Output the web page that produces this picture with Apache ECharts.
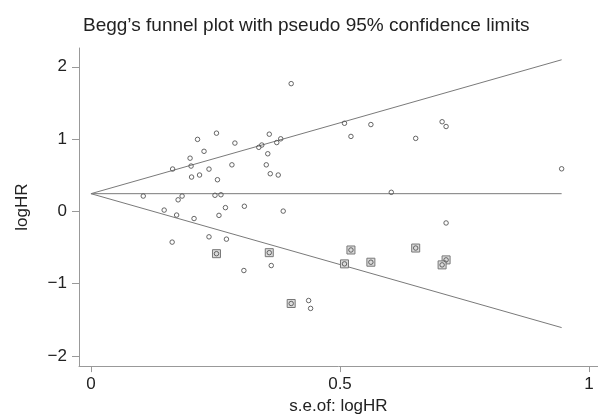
<!DOCTYPE html>
<html>
<head>
<meta charset="utf-8">
<script src="https://cdn.jsdelivr.net/npm/echarts@6/dist/echarts.min.js"></script>
<style>
  html, body { margin: 0; padding: 0; background: #fff; }
  #chart { width: 598px; height: 420px; }
</style>
</head>
<body>
<div id="chart"></div>
<script>
// Observed studies: standard error and log hazard ratio
const studySE = [
  0.252, 0.214, 0.289, 0.358, 0.227, 0.199, 0.164, 0.201, 0.237, 0.283,
  0.202, 0.218, 0.254, 0.337, 0.343, 0.373, 0.381, 0.355, 0.352, 0.360,
  0.376, 0.105, 0.183, 0.175, 0.249, 0.261, 0.147, 0.172, 0.207, 0.270,
  0.257, 0.308, 0.237, 0.272, 0.163, 0.362, 0.307, 0.402, 0.509, 0.562,
  0.522, 0.652, 0.705, 0.713, 0.603, 0.386, 0.713, 0.437, 0.441, 0.945
];
const studyLogHR = [
  1.082, 0.996, 0.945, 1.068, 0.831, 0.736, 0.586, 0.627, 0.585, 0.644,
  0.475, 0.503, 0.438, 0.886, 0.918, 0.952, 1.004, 0.797, 0.644, 0.521,
  0.503, 0.212, 0.212, 0.160, 0.223, 0.230, 0.018, -0.051, -0.099, 0.052,
  -0.055, 0.071, -0.352, -0.384, -0.425, -0.749, -0.818, 1.767, 1.219, 1.201,
  1.037, 1.010, 1.240, 1.174, 0.264, 0.004, -0.160, -1.233, -1.342, 0.589
];

// Filled (imputed) studies
const filledSE = [0.252, 0.358, 0.522, 0.652, 0.562, 0.509, 0.713, 0.705, 0.402];
const filledLogHR = [-0.585, -0.571, -0.534, -0.507, -0.703, -0.726, -0.671, -0.740, -1.274];

// Pooled estimate and the largest standard error, for the pseudo 95% limits
const pooledLogHR = 0.245;
const maxSE = 0.945;
const zCrit = 1.96;

const xTickValues = [0, 0.5, 1];
const yTickValues = [-2, -1, 0, 1, 2];

const pairs = (xs, ys) => xs.map((x, i) => [x, ys[i]]);

const lineStyle = { color: '#7a7a7a', width: 1 };
const funnelLine = (yEnd) => ({
  type: 'line',
  data: [[0, pooledLogHR], [maxSE, yEnd]],
  symbol: 'none',
  silent: true,
  lineStyle: lineStyle,
  z: 1
});

const fontFamily = '"Liberation Sans", Arial, Helvetica, sans-serif';
const minus = v => String(v).replace('-', '\u2212');

const chart = echarts.init(document.getElementById('chart'), null, { renderer: 'canvas' });
chart.setOption({
  animation: false,
  backgroundColor: '#fff',
  title: {
    text: 'Begg\u2019s funnel plot with pseudo 95% confidence limits',
    left: 78,
    top: 11,
    textStyle: { fontFamily, fontSize: 19, fontWeight: 'normal', color: '#222' }
  },
  grid: { left: 79, right: 0, top: 48, bottom: 51, containLabel: false },
  xAxis: {
    type: 'value',
    min: -0.024,
    max: 1.018,
    name: 's.e.of: logHR',
    nameLocation: 'middle',
    nameGap: 31,
    nameTextStyle: { fontFamily, fontSize: 17, color: '#222' },
    axisLine: { onZero: false, lineStyle: { color: '#999', width: 1 } },
    axisTick: { show: true, length: 6, customValues: xTickValues, lineStyle: { color: '#999' } },
    axisLabel: {
      customValues: xTickValues,
      margin: 10,
      fontFamily, fontSize: 17, color: '#222',
      formatter: v => minus(v)
    },
    splitLine: { show: false }
  },
  yAxis: {
    type: 'value',
    min: -2.14,
    max: 2.26,
    name: 'logHR',
    nameLocation: 'middle',
    nameGap: 48,
    nameTextStyle: { fontFamily, fontSize: 17, color: '#222' },
    axisLine: { onZero: false, lineStyle: { color: '#999', width: 1 } },
    axisTick: { show: true, length: 7, customValues: yTickValues, lineStyle: { color: '#999' } },
    axisLabel: {
      customValues: yTickValues,
      margin: 12,
      fontFamily, fontSize: 17, color: '#222',
      formatter: v => minus(v)
    },
    splitLine: { show: false }
  },
  series: [
    funnelLine(pooledLogHR + zCrit * maxSE),
    funnelLine(pooledLogHR),
    funnelLine(pooledLogHR - zCrit * maxSE),
    {
      type: 'scatter',
      data: pairs(filledSE, filledLogHR),
      symbol: 'rect',
      symbolSize: 8,
      itemStyle: { color: '#dcdcdc', borderColor: '#777', borderWidth: 1, opacity: 1 },
      z: 2
    },
    {
      type: 'scatter',
      data: pairs(studySE, studyLogHR).concat(pairs(filledSE, filledLogHR)),
      symbol: 'circle',
      symbolSize: 4.5,
      itemStyle: { color: 'rgba(255,255,255,0)', borderColor: '#555', borderWidth: 0.9, opacity: 1 },
      z: 3
    }
  ]
});
</script>
</body>
</html>
